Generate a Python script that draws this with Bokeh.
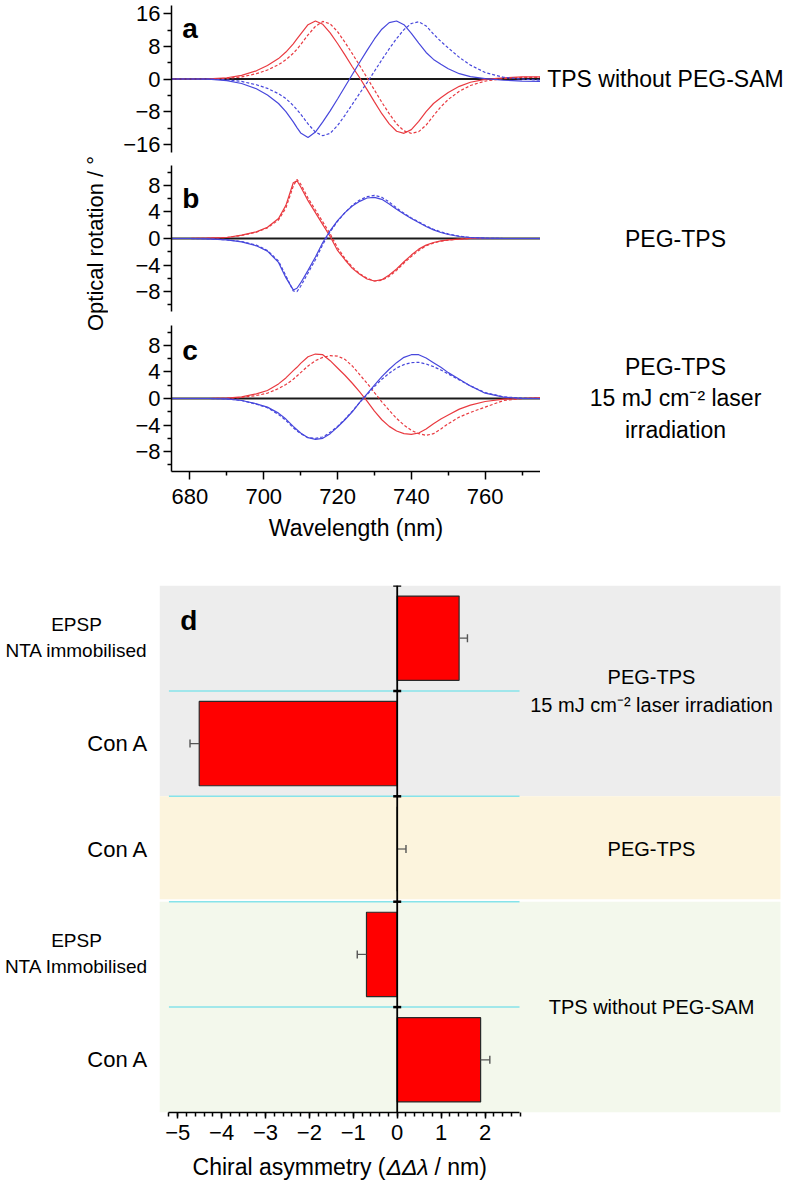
import numpy as np
from bokeh.plotting import figure
from bokeh.layouts import column, row
from bokeh.models import Span, Label, FixedTicker, BoxAnnotation, Range1d
from bokeh.embed import file_html
from bokeh.resources import INLINE

FONT = "Liberation Sans"

# ---------------- data: panels a-c (optical rotation spectra) ----------------
wavelength = [675, 680, 685, 690, 694, 698, 701, 704, 706, 708, 709, 710, 712, 714, 716, 718, 720, 722, 724,
              726, 728, 730, 732, 734, 736, 738, 740, 742, 744, 746, 748, 750, 753, 756, 760, 765, 770, 775]

a_red_solid = [0, 0, 0.05, 0.3, 0.9, 2.0, 3.3, 5.0, 6.6, 8.6, 9.8, 11.0, 13.3, 14.2, 13.4, 11.3, 8.7, 5.9, 3.0,
               0.3, -2.6, -5.6, -8.5, -11.0, -12.8, -13.3, -12.4, -10.4, -8.0, -6.0, -4.6, -3.3, -1.8, -0.8, -0.1, 0.3, 0.5, 0.5]
a_red_dash = [0, 0, 0, 0.15, 0.5, 1.3, 2.2, 3.5, 4.7, 6.3, 7.3, 8.4, 10.8, 12.9, 14.1, 13.5, 11.6, 9.0, 6.2,
              3.3, 0.3, -2.7, -5.7, -8.5, -11.0, -12.7, -13.3, -12.9, -11.3, -9.0, -6.8, -5.0, -3.0, -1.6, -0.5, 0.1, 0.4, 0.4]
a_blue_solid = [0, 0, -0.05, -0.4, -1.1, -2.4, -3.9, -6.0, -8.0, -10.5, -11.9, -13.2, -14.3, -13.0, -10.5, -7.8, -4.9, -1.9, 1.1,
                4.1, 7.0, 9.8, 12.2, 13.8, 14.2, 13.3, 11.2, 8.8, 6.5, 4.8, 3.6, 2.5, 1.3, 0.6, 0.1, -0.3, -0.5, -0.6]
a_blue_dash = [0, 0, 0, -0.2, -0.6, -1.4, -2.3, -3.6, -4.8, -6.5, -7.5, -8.6, -11.0, -13.0, -13.9, -13.3, -11.4, -8.9, -6.2,
               -3.5, -0.9, 1.9, 4.7, 7.4, 9.9, 12.1, 13.6, 14.0, 13.0, 11.0, 9.2, 7.6, 5.3, 3.4, 1.6, 0.4, 0.0, -0.3]

b_red_solid = [0, 0, 0.05, 0.15, 0.5, 1.0, 1.7, 3.0, 5.0, 8.4, 8.7, 7.8, 5.7, 3.9, 2.1, 0.3, -1.8, -3.2, -4.5,
               -5.4, -6.1, -6.4, -6.2, -5.5, -4.6, -3.5, -2.5, -1.6, -1.0, -0.6, -0.35, -0.2, -0.1, 0, 0, 0, 0, 0]
b_red_dash = [0, 0, 0.05, 0.15, 0.45, 0.95, 1.6, 2.8, 4.6, 7.9, 8.9, 8.2, 6.1, 4.3, 2.5, 0.7, -1.4, -3.0, -4.3,
              -5.3, -6.0, -6.4, -6.3, -5.7, -4.8, -3.7, -2.7, -1.8, -1.1, -0.7, -0.4, -0.25, -0.1, 0, 0, 0, 0, 0]
b_blue_solid = [0, 0, -0.05, -0.2, -0.5, -1.1, -1.9, -3.6, -5.9, -7.75, -7.5, -6.7, -4.8, -2.8, -0.6, 1.2, 2.7, 3.9, 4.9,
                5.6, 6.1, 6.2, 5.9, 5.2, 4.4, 3.7, 3.0, 2.4, 1.8, 1.3, 0.9, 0.6, 0.3, 0.15, 0.05, 0, 0, 0]
b_blue_dash = [0, 0, -0.05, -0.2, -0.45, -1.0, -1.8, -3.4, -5.6, -7.9, -8.0, -7.2, -5.2, -3.2, -0.9, 1.0, 2.6, 3.9, 5.0,
               5.8, 6.3, 6.5, 6.2, 5.5, 4.6, 3.8, 3.1, 2.5, 1.9, 1.4, 1.0, 0.7, 0.35, 0.15, 0.05, 0, 0, 0]

c_red_solid = [0, 0, 0, 0.05, 0.25, 0.7, 1.2, 2.2, 3.1, 4.2, 4.7, 5.3, 6.3, 6.7, 6.6, 5.7, 4.6, 3.5, 2.3,
               1.0, -0.4, -1.9, -3.2, -4.2, -4.9, -5.3, -5.4, -5.2, -4.6, -3.8, -3.1, -2.5, -1.6, -1.0, -0.45, -0.1, 0, 0.1]
c_red_dash = [0, 0, 0, 0.02, 0.15, 0.45, 0.8, 1.5, 2.1, 2.9, 3.4, 3.9, 4.9, 5.7, 6.2, 6.45, 6.4, 5.9, 4.9,
              3.6, 2.3, 0.9, -0.5, -1.8, -3.0, -4.0, -4.8, -5.3, -5.55, -5.3, -4.6, -3.8, -2.8, -2.1, -1.3, -0.3, 0, 0.1]
c_blue_solid = [0, 0, 0, -0.05, -0.3, -0.8, -1.3, -2.2, -3.1, -4.2, -4.7, -5.2, -5.9, -6.15, -6.0, -5.3, -4.3, -3.2, -2.0,
                -0.6, 0.7, 2.0, 3.3, 4.4, 5.4, 6.2, 6.6, 6.6, 6.1, 5.4, 4.7, 3.9, 2.9, 1.9, 0.8, 0.2, 0, 0]
c_blue_dash = [0, 0, 0, -0.05, -0.3, -0.85, -1.4, -2.4, -3.3, -4.4, -4.9, -5.3, -5.9, -6.0, -5.8, -5.1, -4.2, -3.1, -1.9,
               -0.6, 0.6, 1.8, 2.9, 3.8, 4.6, 5.1, 5.4, 5.45, 5.2, 4.8, 4.3, 3.7, 2.8, 1.9, 0.9, 0.25, 0.05, 0]

x_major_ticks = [680, 700, 720, 740, 760]
x_minor_ticks = [690, 710, 730, 750, 770]
a_major_ticks = [-16, -8, 0, 8, 16]
a_minor_ticks = [-12, -4, 4, 12]
bc_major_ticks = [-8, -4, 0, 4, 8]
bc_minor_ticks = [-10, -6, -2, 2, 6, 10]

panel_titles = ["TPS without PEG-SAM", "PEG-TPS", "PEG-TPS\n15 mJ cm\u207b\u00b2 laser\nirradiation"]
y_title = "Optical rotation / \u00b0"

# ---------------- data: panel d (chiral asymmetry) ----------------
d_categories = ["EPSP\nNTA immobilised", "Con A", "Con A", "EPSP\nNTA Immobilised", "Con A"]  # top to bottom
d_values = [1.41, -4.51, 0.0, -0.70, 1.90]
d_errors = [0.19, 0.21, 0.20, 0.21, 0.21]
d_groups = ["PEG-TPS\n15 mJ cm\u207b\u00b2 laser irradiation", "PEG-TPS", "TPS without PEG-SAM"]
d_group_rows = [(0, 2), (2, 3), (3, 5)]  # [start, end) row index, top to bottom
d_major_ticks = [-5, -4, -3, -2, -1, 0, 1, 2]
d_title_parts = ["Chiral asymmetry (", "\u0394\u0394\u03bb", " / nm)"]

RED = "#E93A40"
BLUE = "#4747DC"


def minus(v):
    return ("%g" % v).replace("-", "\u2212")


def bare(fig):
    fig.xgrid.visible = False
    fig.ygrid.visible = False
    fig.outline_line_color = None
    fig.background_fill_color = "white"
    fig.border_fill_color = "white"
    return fig


def style_axis(ax, size="22px"):
    ax.axis_line_color = "black"
    ax.axis_line_width = 1.5
    ax.major_tick_line_color = "black"
    ax.minor_tick_line_color = "black"
    ax.major_tick_line_width = 1.5
    ax.minor_tick_line_width = 1.5
    ax.major_tick_in = 0
    ax.minor_tick_in = 0
    ax.major_label_text_font = FONT
    ax.major_label_text_font_size = size
    ax.major_label_text_color = "black"
    ax.axis_label_text_font = FONT
    ax.axis_label_text_font_style = "normal"
    ax.axis_label_text_color = "black"


def top_panel(series, ylim, major, minor, fheight, btop, bbottom, xaxis, letter, letter_y, title, title_x, title_align):
    p = bare(figure(frame_width=369, frame_height=fheight,
                    x_range=Range1d(675, 775), y_range=Range1d(-ylim, ylim),
                    output_backend="svg", toolbar_location=None,
                    min_border_left=63, min_border_right=0,
                    min_border_top=btop, min_border_bottom=bbottom,
                    x_axis_location="below" if xaxis else None))
    p.add_layout(Span(location=0, dimension="width", line_color="#1a1a1a", line_width=2, level="underlay"))
    for vals, col, dash in series:
        p.line(wavelength, vals, line_color=col, line_width=1.2, line_dash=dash)
    ya = p.yaxis[0]
    ya.ticker = FixedTicker(ticks=major, minor_ticks=minor)
    ya.major_label_overrides = {t: minus(t) for t in major}
    style_axis(ya)
    ya.major_tick_out = 8
    ya.minor_tick_out = 4
    ya.major_label_standoff = 3
    if xaxis:
        xa = p.xaxis[0]
        xa.ticker = FixedTicker(ticks=x_major_ticks, minor_ticks=x_minor_ticks)
        style_axis(xa)
        xa.major_tick_out = 8
        xa.minor_tick_out = 4
        xa.major_label_standoff = 9
        xa.axis_label = "Wavelength (nm)"
        xa.axis_label_text_font_size = "23px"
        xa.axis_label_standoff = 8
    p.add_layout(Label(x=677.9, y=letter_y, text=letter, text_font=FONT, text_font_size="28px",
                       text_font_style="bold", text_color="black", text_baseline="alphabetic"))
    # side area with the sample description (same vertical scale as the panel)
    s = bare(figure(frame_width=246, frame_height=fheight,
                    x_range=Range1d(540, 786), y_range=p.y_range,
                    output_backend="svg", toolbar_location=None,
                    min_border_left=0, min_border_right=0,
                    min_border_top=btop, min_border_bottom=bbottom,
                    x_axis_location=None, y_axis_location=None))
    s.add_layout(Label(x=title_x, y=0, text=title, text_font=FONT, text_font_size="23px",
                       text_color="black", text_align=title_align, text_baseline="middle",
                       text_line_height=1.2))
    return row(p, s, spacing=0)


ra = top_panel([(a_red_solid, RED, "solid"), (a_red_dash, RED, "3 2"),
                (a_blue_solid, BLUE, "solid"), (a_blue_dash, BLUE, "3 2")],
               18, a_major_ticks, a_minor_ticks, 147, 5, 6, False, "a", 12.35,
               panel_titles[0], 546.7, "left")
rb = top_panel([(b_red_solid, RED, "solid"), (b_red_dash, RED, "3 2"),
                (b_blue_solid, BLUE, "solid"), (b_blue_dash, BLUE, "3 2")],
               11, bc_major_ticks, bc_minor_ticks, 146, 7, 7, False, "b", 6.0,
               panel_titles[1], 675, "center")
rc = top_panel([(c_red_solid, RED, "solid"), (c_red_dash, RED, "3 2"),
                (c_blue_solid, BLUE, "solid"), (c_blue_dash, BLUE, "3 2")],
               11, bc_major_ticks, bc_minor_ticks, 146, 7, 88, True, "c", 7.2,
               panel_titles[2], 675, "center")

TOP_H = (5 + 147 + 6) + (7 + 146 + 7) + (7 + 146 + 88)
tf = bare(figure(frame_width=108, frame_height=TOP_H, x_range=Range1d(0, 108), y_range=Range1d(0, TOP_H),
                 output_backend="svg", toolbar_location=None,
                 min_border_left=0, min_border_right=0, min_border_top=0, min_border_bottom=0,
                 x_axis_location=None, y_axis_location=None))
tf.add_layout(Label(x=95, y=TOP_H - 243, text=y_title, angle=np.pi / 2, text_font=FONT,
                    text_font_size="22px", text_align="center", text_baseline="middle", text_color="black"))

top_block = row(tf, column(ra, rb, rc, spacing=0), spacing=0)

# ---------------- panel d ----------------
n = len(d_categories)
ys = [n - i - 0.5 for i in range(n)]
tips = [v + (1 if v >= 0 else -1) * e for v, e in zip(d_values, d_errors)]
D_H = 527
D_TOP = 26
D_BOT = 40
band_colors = ["#EDEDED", "#FCF4DD", "#F3F8EC"]

# left: category labels
dl = bare(figure(frame_width=159, frame_height=D_H, x_range=Range1d(0, 159), y_range=Range1d(0, n),
                 output_backend="svg", toolbar_location=None,
                 min_border_left=0, min_border_right=0, min_border_top=D_TOP, min_border_bottom=D_BOT,
                 x_axis_location=None, y_axis_location=None))
for cat, y in zip(d_categories, ys):
    if "\n" in cat:
        dl.add_layout(Label(x=76, y=y + 0.01, text=cat, text_font=FONT, text_font_size="19px",
                            text_align="center", text_baseline="middle", text_line_height=1.25,
                            text_color="black"))
    else:
        dl.add_layout(Label(x=148, y=y, text=cat, text_font=FONT, text_font_size="22px",
                            text_align="right", text_baseline="middle", text_color="black"))

# main: bars, bands and group descriptions
fd = bare(figure(frame_width=627, frame_height=D_H,
                 x_range=Range1d(-5.415, 8.868), y_range=dl.y_range,
                 output_backend="svg", toolbar_location=None,
                 min_border_left=0, min_border_right=0, min_border_top=D_TOP, min_border_bottom=D_BOT,
                 y_axis_location=None))
for (r0, r1), col in zip(d_group_rows, band_colors):
    top = n - r0
    bottom = n - r1
    if r0 == 2:
        bottom += 0.024
    fd.add_layout(BoxAnnotation(bottom=bottom, top=top, right=8.731, fill_color=col, fill_alpha=1.0,
                                line_color=None, level="underlay"))
boundaries = list(range(1, n))
fd.segment(x0=-5.2, x1=2.786, y0=boundaries, y1=boundaries, line_color="#86E3EA", line_width=1.5)
fd.hbar(y=ys, left=0, right=d_values, height=0.8, fill_color="#FF0000", line_color="#2a2a2a", line_width=1.2)
fd.segment(x0=d_values, x1=tips, y0=ys, y1=ys, line_color="#555555", line_width=1.2)
fd.scatter(x=tips, y=ys, marker="dash", angle=np.pi / 2, size=8, line_color="#555555", line_width=1.4)
fd.add_layout(Span(location=0, dimension="height", line_color="black", line_width=1.8))
fd.scatter(x=[0] * n, y=list(range(1, n + 1)), marker="dash", size=8, line_color="black", line_width=2.5)

xa = fd.xaxis[0]
xa.ticker = FixedTicker(ticks=d_major_ticks,
                        minor_ticks=[round(v, 1) for v in np.arange(-5.2, 2.81, 0.2)])
xa.major_label_overrides = {t: minus(t) for t in d_major_ticks}
style_axis(xa)
xa.bounds = (-5.2, 2.786)
xa.major_tick_out = 6
xa.minor_tick_out = 4
xa.major_label_standoff = 6
fd.add_layout(Label(x=-4.94, y=4.67, text="d", text_font=FONT, text_font_size="28px",
                    text_font_style="bold", text_color="black", text_baseline="alphabetic"))
for g, (r0, r1) in zip(d_groups, d_group_rows):
    yc = n - (r0 + r1) / 2
    fd.add_layout(Label(x=5.793, y=yc, text=g, text_font=FONT, text_font_size="20px",
                        text_align="center", text_baseline="middle", text_line_height=1.25,
                        text_color="black"))

bottom_block = row(dl, fd, spacing=0)

# axis title of panel d (with italic quantity symbol)
tt = bare(figure(frame_width=786, frame_height=28, x_range=Range1d(0, 786), y_range=Range1d(0, 28),
                 output_backend="svg", toolbar_location=None,
                 min_border_left=0, min_border_right=0, min_border_top=0, min_border_bottom=0,
                 x_axis_location=None, y_axis_location=None))
TX = 385
tt.add_layout(Label(x=TX, y=14, text=d_title_parts[0], text_font=FONT, text_font_size="23px",
                    text_align="right", text_baseline="middle", text_color="black"))
tt.add_layout(Label(x=TX + 1, y=14, text=d_title_parts[1], text_font=FONT, text_font_size="23px",
                    text_font_style="italic", text_align="left", text_baseline="middle", text_color="black"))
tt.add_layout(Label(x=TX + 49, y=14, text=d_title_parts[2], text_font=FONT, text_font_size="23px",
                    text_align="left", text_baseline="middle", text_color="black"))

layout = column(top_block, bottom_block, tt, spacing=0)
open("out.html", "w").write(file_html(layout, INLINE))
